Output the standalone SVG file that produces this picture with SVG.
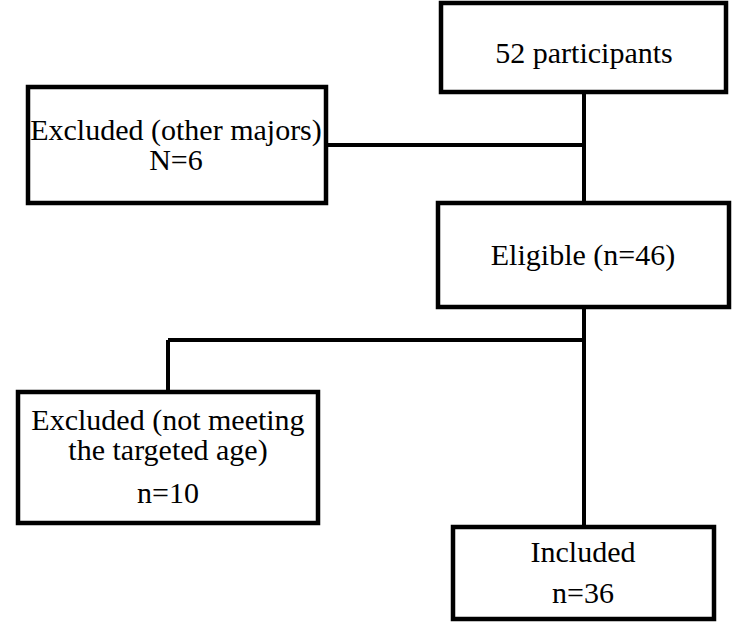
<svg xmlns="http://www.w3.org/2000/svg" width="750" height="643" viewBox="0 0 750 643">
<style>
.box{fill:#fff;stroke:#000;stroke-width:4.5}
.ln{fill:none;stroke:#000;stroke-width:4}
text{font-family:"Liberation Serif","Times New Roman",serif;font-size:30px;fill:#000;text-anchor:middle}
</style>
<rect width="750" height="643" fill="#fff"/>
<g id="connectors">
<path class="ln" d="M584 92 V203"/>
<path class="ln" d="M326 145 H584"/>
<path class="ln" d="M584 307 V527"/>
<path class="ln" d="M168 340 H584"/>
<path class="ln" d="M168 340 V392"/>
</g>
<g id="n52">
<rect class="box" x="441" y="3" width="285" height="89"/>
<text x="584" y="63">52 participants</text>
</g>
<g id="excluded1">
<rect class="box" x="28" y="87" width="298" height="116"/>
<text x="176" y="140">Excluded (other majors)</text>
<text x="176" y="170">N=6</text>
</g>
<g id="eligible">
<rect class="box" x="438" y="203" width="291" height="104"/>
<text x="583" y="265">Eligible (n=46)</text>
</g>
<g id="excluded2">
<rect class="box" x="18" y="392" width="300" height="131"/>
<text x="168" y="430">Excluded (not meeting</text>
<text x="168" y="460">the targeted age)</text>
<text x="168" y="503">n=10</text>
</g>
<g id="included">
<rect class="box" x="453" y="527" width="261" height="92"/>
<text x="583" y="562">Included</text>
<text x="583" y="603">n=36</text>
</g>
</svg>
